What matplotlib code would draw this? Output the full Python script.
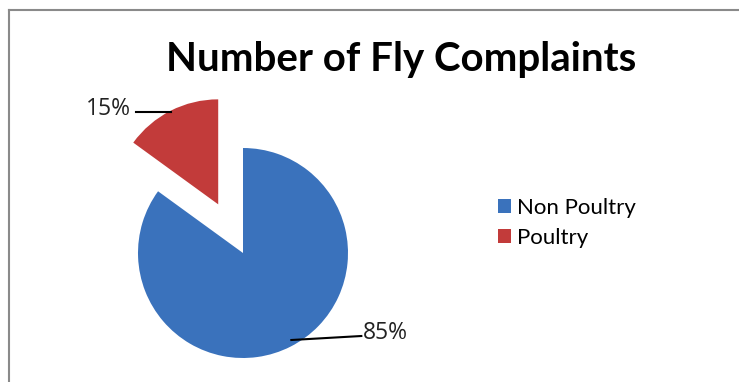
import matplotlib.pyplot as plt
from matplotlib.lines import Line2D
import numpy as np

categories = ["Non Poultry", "Poultry"]
shares = [85, 15]
pct_labels = ["85%", "15%"]
colors = ["#3a72bc", "#c23b3a"]

W, H = 739, 382
fig = plt.figure(figsize=(W / 100, H / 100), dpi=100)
ax = fig.add_axes([0, 0, 1, 1])

# pie in pixel units (y up); explode is in data units here
cx, cy, R = 243, H - 253, 105
wedges, _ = ax.pie(shares, colors=colors, startangle=90, counterclock=False,
                   explode=[0, 0.52 * R], center=(cx, cy), radius=R,
                   wedgeprops=dict(linewidth=0))
ax.set_xlim(0, W)
ax.set_ylim(0, H)
ax.set_aspect("equal")
ax.axis("off")

# leader lines + labels
offsets = [((0.93, 4, 70, 4), "left"), ((0.99, 0, -35, 0), "right")]
for w, lab, ((rf, shift, dx, dy), ha) in zip(wedges, pct_labels, offsets):
    mid = np.deg2rad((w.theta1 + w.theta2) / 2)
    x0 = w.center[0] + rf * w.r * np.cos(mid) + shift
    y0 = w.center[1] + rf * w.r * np.sin(mid)
    x1, y1 = x0 + dx, y0 + dy
    ax.plot([x0, x1], [y0, y1], color="black", lw=1.5)
    tx = x1 + (2 if ha == "left" else -5)
    ax.text(tx, y1 + 3, lab, ha=ha, va="center", fontsize=16.5,
            family="Open Sans", color="#222222")

fig.text(401 / W, 1 - 60 / H, "Number of Fly Complaints", ha="center",
         va="center", fontsize=29, fontweight="bold", family="Lato")

ax.legend(wedges, categories, loc="upper left",
          bbox_to_anchor=(478 / W, 1 - 178 / H), bbox_transform=fig.transFigure,
          frameon=False, prop=dict(family="Lato", size=16),
          handlelength=0.6, handleheight=0.6, handletextpad=0.25, labelspacing=0.45)

# chart border (top and left visible)
ax.add_line(Line2D([9, 9], [0, H - 10], color="#8a8a8a", lw=1.5))
ax.add_line(Line2D([9, W], [H - 10, H - 10], color="#8a8a8a", lw=1.5))

fig.savefig("out.png", dpi=100)
